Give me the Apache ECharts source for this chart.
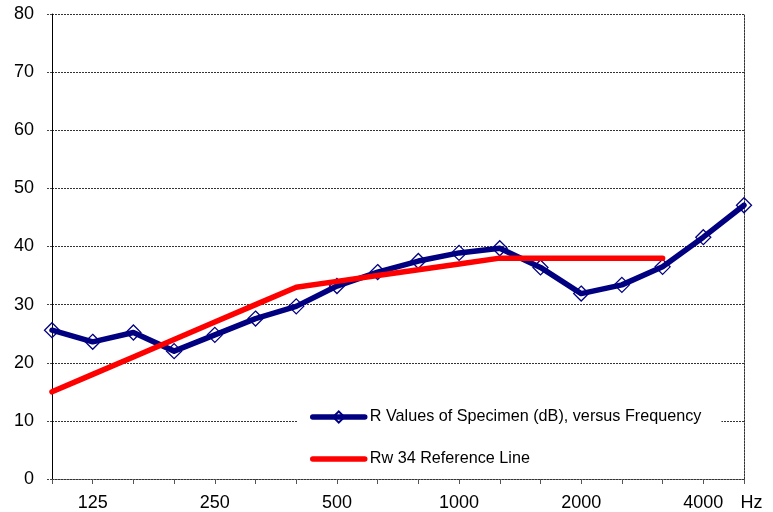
<!DOCTYPE html>
<html><head><meta charset="utf-8">
<script src="https://cdn.jsdelivr.net/npm/echarts@6/dist/echarts.min.js"></script>
<style>html,body{margin:0;padding:0;background:#fff}#c{width:773px;height:512px}</style>
</head><body><div id="c"></div>
<script>
const categories = ['100','125','160','200','250','315','400','500','630','800','1000','1250','1600','2000','2500','3150','4000','5000'];
const tickLabels = ['','125','','','250','','','500','','','1000','','','2000','','','4000','Hz'];
const specimenValues = [25.6,23.6,25.2,22.0,24.8,27.6,29.7,33.2,35.6,37.5,38.9,39.7,36.4,31.9,33.4,36.5,41.6,47.1];
const referenceValues = [15,18,21,24,27,30,33,34,35,36,37,38,38,38,38,38,null,null];
const yTicks = [0,10,20,30,40,50,60,70,80];

const font = '"Liberation Sans", Arial, sans-serif';
const chart = echarts.init(document.getElementById('c'));
chart.setOption({
  animation: false,
  backgroundColor: '#fff',
  grid: { left: 52, right: 29, top: 14, bottom: 33, containLabel: false },
  legend: {
    orient: 'vertical', left: 297, top: 390,
    padding: [19, 20, 6, 13],
    backgroundColor: '#fff',
    itemWidth: 52, itemHeight: 14, itemGap: 26,
    lineStyle: { width: 5.5 },
    textStyle: { fontFamily: font, fontSize: 16.2, color: '#000' },
    data: [
      { name: 'R Values of Specimen (dB), versus Frequency' },
      { name: 'Rw 34 Reference Line', itemStyle: { opacity: 0 } }
    ]
  },
  xAxis: {
    type: 'category', data: categories, boundaryGap: false,
    axisLine: { lineStyle: { color: '#333', type: [2, 1], width: 1 } },
    axisTick: { show: true, length: 5, interval: 0, lineStyle: { color: '#555' } },
    axisLabel: { interval: 0, margin: 15, fontFamily: font, fontSize: 18, color: '#000',
      formatter: (v, i) => i === tickLabels.length - 1 ? '{hz|' + tickLabels[i] + '}' : tickLabels[i],
      rich: { hz: { fontFamily: font, fontSize: 18, color: '#000', padding: [0, 0, 0, 15] } } },
    splitLine: { show: false }
  },
  yAxis: [{
    type: 'value', min: yTicks[0], max: yTicks[yTicks.length - 1], interval: 10,
    axisLine: { show: true, lineStyle: { color: '#000', width: 1 } },
    axisTick: { show: true, length: 6, lineStyle: { color: '#444', type: [2, 1] } },
    axisLabel: { margin: 18, fontFamily: font, fontSize: 18, color: '#000' },
    splitLine: { show: true, lineStyle: { color: '#333', type: [2, 1], width: 1 } }
  }, {
    type: 'value', position: 'right', min: yTicks[0], max: yTicks[yTicks.length - 1], interval: 10,
    axisLine: { show: true, lineStyle: { color: '#333', type: [2, 1], width: 1 } },
    axisTick: { show: false }, axisLabel: { show: false }, splitLine: { show: false }
  }],
  series: [{
    name: 'R Values of Specimen (dB), versus Frequency',
    type: 'line', data: specimenValues,
    lineStyle: { color: '#000080', width: 5.5, cap: 'round', join: 'round' },
    symbol: 'diamond', symbolSize: 15, showAllSymbol: true,
    itemStyle: { color: 'rgba(255,255,255,0)', borderColor: '#000080', borderWidth: 1.3 },
    z: 2
  }, {
    name: 'Rw 34 Reference Line',
    type: 'line', data: referenceValues,
    lineStyle: { color: '#ff0000', width: 5.5, cap: 'round', join: 'round' },
    itemStyle: { color: '#ff0000' },
    symbol: 'none', showSymbol: false,
    z: 3
  }]
});
</script></body></html>
